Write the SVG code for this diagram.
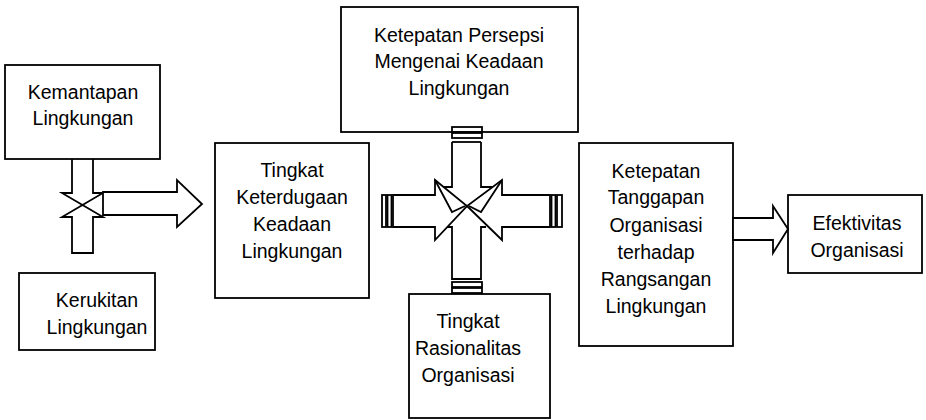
<svg xmlns="http://www.w3.org/2000/svg" width="926" height="420" viewBox="0 0 926 420">
<style>
.box{fill:#fff;stroke:#000;stroke-width:1.8}
.ln{fill:none;stroke:#000;stroke-width:1.8;stroke-linejoin:miter}
.arw{fill:#fff;stroke:#000;stroke-width:1.8;stroke-linejoin:miter}
text{font-family:"Liberation Sans",Arial,sans-serif;font-size:19.5px;fill:#000;text-anchor:middle}
</style>
<rect width="926" height="420" fill="#fff"/>
<g id="n-kemantapan">
<rect class="box" x="5" y="65" width="155" height="94"/>
<text x="83" y="99">Kemantapan</text>
<text x="83" y="125">Lingkungan</text>
</g>
<g id="n-kerukitan">
<rect class="box" x="19" y="273" width="136" height="77"/>
<text x="97" y="307">Kerukitan</text>
<text x="97" y="334">Lingkungan</text>
</g>
<g id="n-keterdugaan">
<rect class="box" x="215" y="143" width="154" height="155"/>
<text x="292" y="177">Tingkat</text>
<text x="292" y="204">Keterdugaan</text>
<text x="292" y="231">Keadaan</text>
<text x="292" y="258">Lingkungan</text>
</g>
<g id="n-persepsi">
<rect class="box" x="341" y="7" width="237" height="125"/>
<text x="459" y="42">Ketepatan Persepsi</text>
<text x="459" y="68">Mengenai Keadaan</text>
<text x="459" y="95">Lingkungan</text>
</g>
<g id="n-rasionalitas">
<rect class="box" x="409" y="294" width="141" height="124"/>
<text x="468" y="328">Tingkat</text>
<text x="468" y="355">Rasionalitas</text>
<text x="468" y="382">Organisasi</text>
</g>
<g id="n-tanggapan">
<rect class="box" x="579" y="143" width="154" height="203"/>
<text x="656" y="178">Ketepatan</text>
<text x="656" y="204">Tanggapan</text>
<text x="656" y="232">Organisasi</text>
<text x="656" y="259">terhadap</text>
<text x="656" y="286">Rangsangan</text>
<text x="656" y="313">Lingkungan</text>
</g>
<g id="n-efektivitas">
<rect class="box" x="788" y="195" width="134" height="78"/>
<text x="857" y="230">Efektivitas</text>
<text x="857" y="257">Organisasi</text>
</g>
<g id="connectors">
<!-- left bow-tie and arrow -->
<polyline class="ln" points="72,159 72,193 62,193 82.5,205 103,193 93,193 93,159"/>
<polygon class="ln" points="72,253 72,217 62,217 82.5,205 103,217 93,217 93,253"/>
<polygon class="arw" points="103,192 177,192 177,180 202,204 177,227 177,215 103,215"/>
<!-- central cross -->
<rect class="ln" x="452" y="127" width="30" height="5"/>
<rect class="ln" x="452" y="133" width="30" height="5"/>
<polyline class="ln" points="452,142 481,142"/>
<polyline class="ln" points="452,142 452,187 443.6,187"/>
<polyline class="ln" points="481,142 481,187 492.6,187"/>
<polyline class="ln" points="447,227 452,227 452,279 481,279 481,227 486,227"/>
<rect class="ln" x="452" y="282" width="30" height="5"/>
<rect class="ln" x="452" y="288" width="30" height="5"/>
<polygon class="ln" points="393,195 435,195 435,180 467,206 435,240 435,227 393,227"/>
<polygon class="ln" points="550,195 502,195 502,180 467,206 502,240 502,227 550,227"/>
<polyline class="ln" points="435,180 452,212 465,206"/>
<polyline class="ln" points="502,180 481,212 469,206"/>
<rect class="ln" x="382" y="195" width="4" height="32"/>
<rect class="ln" x="387.5" y="195" width="4" height="32"/>
<rect class="ln" x="551.5" y="195" width="4" height="32"/>
<rect class="ln" x="557" y="195" width="5" height="32"/>
<!-- right arrow -->
<polygon class="arw" points="733,218 773,218 773,206 788,229 773,253 773,240 733,240"/>
</g>
</svg>
